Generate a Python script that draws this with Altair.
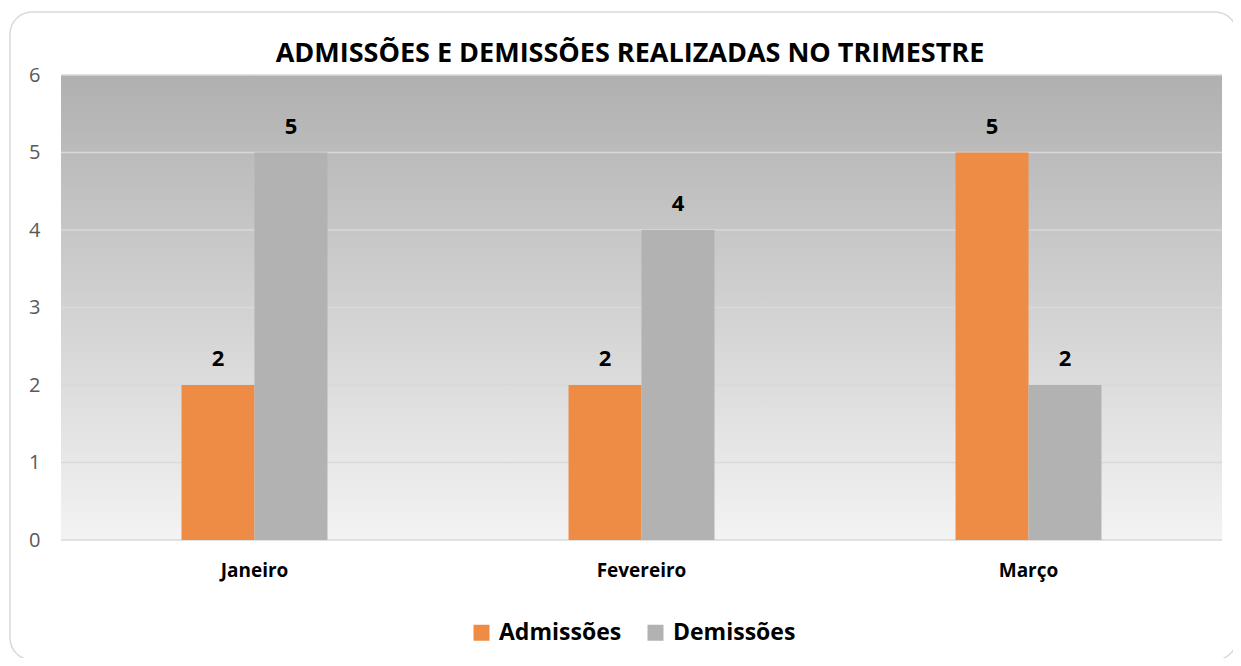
import altair as alt
import pandas as pd

months = ["Janeiro", "Fevereiro", "Março"]
series = ["Admissões", "Demissões"]
admissoes = [2, 2, 5]
demissoes = [5, 4, 2]
y_ticks = [0, 1, 2, 3, 4, 5, 6]
colors = ["#EE8B45", "#B2B2B2"]
title_text = "ADMISSÕES E DEMISSÕES REALIZADAS NO TRIMESTRE"

rows = []
for m, a, d in zip(months, admissoes, demissoes):
    rows.append({"mes": m, "serie": series[0], "valor": a})
    rows.append({"mes": m, "serie": series[1], "valor": d})
df = pd.DataFrame(rows)
grid_df = pd.DataFrame({"t": y_ticks})
one = pd.DataFrame({"a": [0]})

W, H = 1161, 465
FONT = "Open Sans"

x_enc = alt.X("mes:N", sort=months,
              scale=alt.Scale(paddingInner=0.623, paddingOuter=0.3115),
              axis=alt.Axis(title=None, labelFontSize=19, labelFontWeight="bold",
                            labelColor="#000000", labelPadding=21, ticks=False,
                            domain=False, labelAngle=0, grid=False, labelFont=FONT))
y_scale = alt.Scale(domain=[0, 6])
xoff = alt.XOffset("serie:N", sort=series, scale=alt.Scale(paddingInner=0, paddingOuter=0))

border = alt.Chart(one).mark_rect(
    cornerRadius=22, fill="#ffffff", fillOpacity=0, stroke="#d9d9d9", strokeWidth=1.5
).encode(x=alt.value(-51), x2=alt.value(W + 15), y=alt.value(-63), y2=alt.value(H + 120))

title = alt.Chart(one).mark_text(
    text=title_text, fontSize=27, fontWeight="bold", font=FONT, color="#000000",
    align="center", baseline="alphabetic"
).encode(x=alt.value(569), y=alt.value(-13))

bg = alt.Chart(one).mark_rect(
    color=alt.Gradient(gradient="linear", x1=0, y1=0, x2=0, y2=1,
                       stops=[alt.GradientStop(offset=0, color="#B0B0B0"),
                              alt.GradientStop(offset=1, color="#F3F3F3")])
).encode(x=alt.value(0), x2=alt.value(W), y=alt.value(0), y2=alt.value(H))

grid = alt.Chart(grid_df).mark_rule(color="#D9D9D9", strokeWidth=1.5).encode(
    y=alt.Y("t:Q", scale=y_scale,
            axis=alt.Axis(title=None, values=y_ticks, labelFontSize=20, labelColor="#595959",
                          labelPadding=21, ticks=False, domain=False, grid=False,
                          labelFont=FONT, format="d")),
    x=alt.value(0), x2=alt.value(W))

bars = alt.Chart(df).mark_bar(size=73).encode(
    x=x_enc,
    xOffset=xoff,
    y=alt.Y("valor:Q", scale=y_scale),
    color=alt.Color("serie:N", sort=series,
                    scale=alt.Scale(domain=series, range=colors),
                    legend=alt.Legend(title=None, orient="none", direction="horizontal",
                                      legendX=409, legendY=546, symbolType="square",
                                      symbolSize=256, symbolStrokeWidth=0,
                                      labelFontSize=23, labelFontWeight="bold",
                                      labelColor="#000000", labelFont=FONT,
                                      columnPadding=22, labelOffset=6)),
)

labels = alt.Chart(df).mark_text(
    dy=-14, baseline="bottom", fontSize=22, fontWeight="bold", color="#000000", font=FONT
).encode(x=x_enc, xOffset=xoff, y=alt.Y("valor:Q", scale=y_scale), text="valor:Q")

chart = alt.layer(border, title, bg, grid, bars, labels).properties(
    width=W, height=H,
    autosize=alt.AutoSizeParams(type="none"),
    padding={"left": 53, "top": 67, "right": 11, "bottom": 118},
).configure_view(stroke=None)

chart.save("out.html", embed_options={"renderer": "svg", "actions": False})
